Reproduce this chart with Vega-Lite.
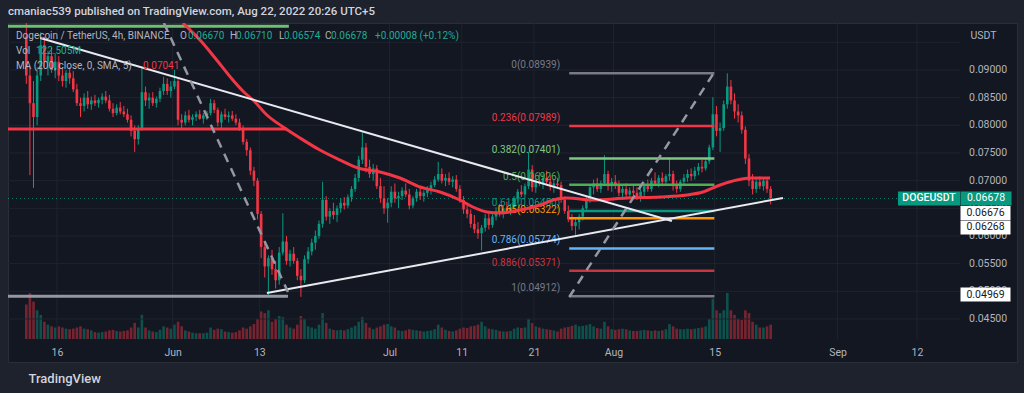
{
"$schema":"https://vega.github.io/schema/vega-lite/v6.json",
"width":1009,"height":339,
"autosize":{"type":"none"},
"padding":{"left":8,"top":23,"right":7,"bottom":31},
"background":"#1e222d",
"config":{"view":{"fill":"#131722","stroke":"#2a2e39","strokeWidth":1},"font":"Roboto","axis":{"labelOverlap":false,"labelBound":false}},
"title":{"text":"cmaniac539 published on TradingView.com, Aug 22, 2022 20:26 UTC+5","anchor":"start","frame":"group","orient":"top","offset":-1,"baseline":"middle","fontSize":11.5,"fontWeight":500,"color":"#d1d4dc","font":"Roboto"},
"datasets":{"candles":[
{"t":"2022-05-11T18:00Z","o":0.0960,"h":0.0985,"l":0.0875,"c":0.0890,"v":600},
{"t":"2022-05-12T06:00Z","o":0.0890,"h":0.0905,"l":0.0710,"c":0.0840,"v":800},
{"t":"2022-05-12T18:00Z","o":0.0840,"h":0.0880,"l":0.0687,"c":0.0815,"v":650},
{"t":"2022-05-13T06:00Z","o":0.0815,"h":0.0905,"l":0.0800,"c":0.0890,"v":500},
{"t":"2022-05-13T18:00Z","o":0.0890,"h":0.0968,"l":0.0880,"c":0.0945,"v":420},
{"t":"2022-05-14T06:00Z","o":0.0945,"h":0.0960,"l":0.0905,"c":0.0915,"v":300},
{"t":"2022-05-14T18:00Z","o":0.0915,"h":0.0935,"l":0.0890,"c":0.0925,"v":250},
{"t":"2022-05-15T06:00Z","o":0.0925,"h":0.0940,"l":0.0895,"c":0.0900,"v":220},
{"t":"2022-05-15T18:00Z","o":0.0900,"h":0.0930,"l":0.0885,"c":0.0915,"v":200},
{"t":"2022-05-16T06:00Z","o":0.0915,"h":0.0925,"l":0.0880,"c":0.0890,"v":220},
{"t":"2022-05-16T18:00Z","o":0.0890,"h":0.0905,"l":0.0870,"c":0.0880,"v":200},
{"t":"2022-05-17T06:00Z","o":0.0880,"h":0.0900,"l":0.0868,"c":0.0895,"v":180},
{"t":"2022-05-17T18:00Z","o":0.0895,"h":0.0905,"l":0.0875,"c":0.0885,"v":170},
{"t":"2022-05-18T06:00Z","o":0.0885,"h":0.0898,"l":0.0860,"c":0.0865,"v":180},
{"t":"2022-05-18T18:00Z","o":0.0865,"h":0.0875,"l":0.0835,"c":0.0840,"v":200},
{"t":"2022-05-19T06:00Z","o":0.0840,"h":0.0850,"l":0.0815,"c":0.0835,"v":220},
{"t":"2022-05-19T18:00Z","o":0.0835,"h":0.0858,"l":0.0825,"c":0.0850,"v":180},
{"t":"2022-05-20T06:00Z","o":0.0850,"h":0.0862,"l":0.0830,"c":0.0838,"v":170},
{"t":"2022-05-20T18:00Z","o":0.0838,"h":0.0852,"l":0.0828,"c":0.0845,"v":150},
{"t":"2022-05-21T06:00Z","o":0.0845,"h":0.0855,"l":0.0835,"c":0.0840,"v":120},
{"t":"2022-05-21T18:00Z","o":0.0840,"h":0.0850,"l":0.0832,"c":0.0846,"v":110},
{"t":"2022-05-22T06:00Z","o":0.0846,"h":0.0858,"l":0.0838,"c":0.0852,"v":120},
{"t":"2022-05-22T18:00Z","o":0.0852,"h":0.0862,"l":0.0840,"c":0.0845,"v":130},
{"t":"2022-05-23T06:00Z","o":0.0845,"h":0.0855,"l":0.0825,"c":0.0830,"v":150},
{"t":"2022-05-23T18:00Z","o":0.0830,"h":0.0840,"l":0.0815,"c":0.0822,"v":160},
{"t":"2022-05-24T06:00Z","o":0.0822,"h":0.0838,"l":0.0818,"c":0.0832,"v":140},
{"t":"2022-05-24T18:00Z","o":0.0832,"h":0.0842,"l":0.0820,"c":0.0825,"v":130},
{"t":"2022-05-25T06:00Z","o":0.0825,"h":0.0835,"l":0.0815,"c":0.0820,"v":140},
{"t":"2022-05-25T18:00Z","o":0.0820,"h":0.0830,"l":0.0805,"c":0.0810,"v":150},
{"t":"2022-05-26T06:00Z","o":0.0810,"h":0.0818,"l":0.0780,"c":0.0790,"v":200},
{"t":"2022-05-26T18:00Z","o":0.0790,"h":0.0800,"l":0.0752,"c":0.0775,"v":280},
{"t":"2022-05-27T06:00Z","o":0.0775,"h":0.0800,"l":0.0765,"c":0.0795,"v":200},
{"t":"2022-05-27T18:00Z","o":0.0795,"h":0.0905,"l":0.0790,"c":0.0860,"v":420},
{"t":"2022-05-28T06:00Z","o":0.0860,"h":0.0870,"l":0.0835,"c":0.0845,"v":200},
{"t":"2022-05-28T18:00Z","o":0.0845,"h":0.0858,"l":0.0830,"c":0.0850,"v":150},
{"t":"2022-05-29T06:00Z","o":0.0850,"h":0.0860,"l":0.0835,"c":0.0840,"v":130},
{"t":"2022-05-29T18:00Z","o":0.0840,"h":0.0852,"l":0.0832,"c":0.0848,"v":120},
{"t":"2022-05-30T06:00Z","o":0.0848,"h":0.0868,"l":0.0842,"c":0.0862,"v":160},
{"t":"2022-05-30T18:00Z","o":0.0862,"h":0.0888,"l":0.0855,"c":0.0875,"v":220},
{"t":"2022-05-31T06:00Z","o":0.0875,"h":0.0885,"l":0.0855,"c":0.0862,"v":200},
{"t":"2022-05-31T18:00Z","o":0.0862,"h":0.0880,"l":0.0850,"c":0.0870,"v":180},
{"t":"2022-06-01T06:00Z","o":0.0870,"h":0.0900,"l":0.0865,"c":0.0880,"v":250},
{"t":"2022-06-01T18:00Z","o":0.0880,"h":0.0885,"l":0.0800,"c":0.0810,"v":300},
{"t":"2022-06-02T06:00Z","o":0.0810,"h":0.0820,"l":0.0792,"c":0.0805,"v":220},
{"t":"2022-06-02T18:00Z","o":0.0805,"h":0.0825,"l":0.0800,"c":0.0818,"v":150},
{"t":"2022-06-03T06:00Z","o":0.0818,"h":0.0828,"l":0.0805,"c":0.0810,"v":130},
{"t":"2022-06-03T18:00Z","o":0.0810,"h":0.0820,"l":0.0800,"c":0.0815,"v":110},
{"t":"2022-06-04T06:00Z","o":0.0815,"h":0.0825,"l":0.0808,"c":0.0820,"v":100},
{"t":"2022-06-04T18:00Z","o":0.0820,"h":0.0828,"l":0.0810,"c":0.0812,"v":100},
{"t":"2022-06-05T06:00Z","o":0.0812,"h":0.0822,"l":0.0803,"c":0.0818,"v":100},
{"t":"2022-06-05T18:00Z","o":0.0818,"h":0.0826,"l":0.0810,"c":0.0822,"v":110},
{"t":"2022-06-06T06:00Z","o":0.0822,"h":0.0848,"l":0.0818,"c":0.0840,"v":200},
{"t":"2022-06-06T18:00Z","o":0.0840,"h":0.0846,"l":0.0822,"c":0.0828,"v":160},
{"t":"2022-06-07T06:00Z","o":0.0828,"h":0.0832,"l":0.0798,"c":0.0805,"v":180},
{"t":"2022-06-07T18:00Z","o":0.0805,"h":0.0825,"l":0.0795,"c":0.0820,"v":170},
{"t":"2022-06-08T06:00Z","o":0.0820,"h":0.0830,"l":0.0810,"c":0.0815,"v":130},
{"t":"2022-06-08T18:00Z","o":0.0815,"h":0.0825,"l":0.0805,"c":0.0818,"v":120},
{"t":"2022-06-09T06:00Z","o":0.0818,"h":0.0826,"l":0.0808,"c":0.0812,"v":110},
{"t":"2022-06-09T18:00Z","o":0.0812,"h":0.0820,"l":0.0800,"c":0.0805,"v":120},
{"t":"2022-06-10T06:00Z","o":0.0805,"h":0.0812,"l":0.0790,"c":0.0795,"v":150},
{"t":"2022-06-10T18:00Z","o":0.0795,"h":0.0800,"l":0.0765,"c":0.0770,"v":200},
{"t":"2022-06-11T06:00Z","o":0.0770,"h":0.0775,"l":0.0745,"c":0.0755,"v":180},
{"t":"2022-06-11T18:00Z","o":0.0755,"h":0.0760,"l":0.0710,"c":0.0718,"v":220},
{"t":"2022-06-12T06:00Z","o":0.0718,"h":0.0725,"l":0.0690,"c":0.0700,"v":260},
{"t":"2022-06-12T18:00Z","o":0.0700,"h":0.0705,"l":0.0630,"c":0.0640,"v":350},
{"t":"2022-06-13T06:00Z","o":0.0640,"h":0.0645,"l":0.0560,"c":0.0580,"v":480},
{"t":"2022-06-13T18:00Z","o":0.0580,"h":0.0590,"l":0.0525,"c":0.0545,"v":450},
{"t":"2022-06-14T06:00Z","o":0.0545,"h":0.0565,"l":0.0493,"c":0.0560,"v":500},
{"t":"2022-06-14T18:00Z","o":0.0560,"h":0.0575,"l":0.0530,"c":0.0540,"v":300},
{"t":"2022-06-15T06:00Z","o":0.0540,"h":0.0555,"l":0.0505,"c":0.0520,"v":350},
{"t":"2022-06-15T18:00Z","o":0.0520,"h":0.0580,"l":0.0512,"c":0.0570,"v":400},
{"t":"2022-06-16T06:00Z","o":0.0570,"h":0.0641,"l":0.0565,"c":0.0590,"v":380},
{"t":"2022-06-16T18:00Z","o":0.0590,"h":0.0600,"l":0.0548,"c":0.0555,"v":250},
{"t":"2022-06-17T06:00Z","o":0.0555,"h":0.0575,"l":0.0545,"c":0.0568,"v":200},
{"t":"2022-06-17T18:00Z","o":0.0568,"h":0.0580,"l":0.0550,"c":0.0555,"v":180},
{"t":"2022-06-18T06:00Z","o":0.0555,"h":0.0560,"l":0.0520,"c":0.0528,"v":250},
{"t":"2022-06-18T18:00Z","o":0.0528,"h":0.0540,"l":0.0490,"c":0.0520,"v":400},
{"t":"2022-06-19T06:00Z","o":0.0520,"h":0.0565,"l":0.0515,"c":0.0558,"v":350},
{"t":"2022-06-19T18:00Z","o":0.0558,"h":0.0580,"l":0.0550,"c":0.0572,"v":220},
{"t":"2022-06-20T06:00Z","o":0.0572,"h":0.0595,"l":0.0565,"c":0.0588,"v":200},
{"t":"2022-06-20T18:00Z","o":0.0588,"h":0.0610,"l":0.0575,"c":0.0600,"v":180},
{"t":"2022-06-21T06:00Z","o":0.0600,"h":0.0628,"l":0.0595,"c":0.0622,"v":250},
{"t":"2022-06-21T18:00Z","o":0.0622,"h":0.0698,"l":0.0615,"c":0.0665,"v":450},
{"t":"2022-06-22T06:00Z","o":0.0665,"h":0.0672,"l":0.0628,"c":0.0635,"v":280},
{"t":"2022-06-22T18:00Z","o":0.0635,"h":0.0650,"l":0.0622,"c":0.0645,"v":180},
{"t":"2022-06-23T06:00Z","o":0.0645,"h":0.0660,"l":0.0630,"c":0.0638,"v":160},
{"t":"2022-06-23T18:00Z","o":0.0638,"h":0.0655,"l":0.0625,"c":0.0650,"v":150},
{"t":"2022-06-24T06:00Z","o":0.0650,"h":0.0668,"l":0.0642,"c":0.0660,"v":160},
{"t":"2022-06-24T18:00Z","o":0.0660,"h":0.0670,"l":0.0648,"c":0.0655,"v":150},
{"t":"2022-06-25T06:00Z","o":0.0655,"h":0.0675,"l":0.0650,"c":0.0670,"v":170},
{"t":"2022-06-25T18:00Z","o":0.0670,"h":0.0690,"l":0.0662,"c":0.0685,"v":200},
{"t":"2022-06-26T06:00Z","o":0.0685,"h":0.0712,"l":0.0680,"c":0.0705,"v":230},
{"t":"2022-06-26T18:00Z","o":0.0705,"h":0.0745,"l":0.0698,"c":0.0738,"v":300},
{"t":"2022-06-27T06:00Z","o":0.0738,"h":0.0787,"l":0.0730,"c":0.0760,"v":380},
{"t":"2022-06-27T18:00Z","o":0.0760,"h":0.0768,"l":0.0715,"c":0.0725,"v":280},
{"t":"2022-06-28T06:00Z","o":0.0725,"h":0.0738,"l":0.0705,"c":0.0712,"v":200},
{"t":"2022-06-28T18:00Z","o":0.0712,"h":0.0730,"l":0.0700,"c":0.0722,"v":170},
{"t":"2022-06-29T06:00Z","o":0.0722,"h":0.0728,"l":0.0685,"c":0.0690,"v":200},
{"t":"2022-06-29T18:00Z","o":0.0690,"h":0.0705,"l":0.0660,"c":0.0668,"v":220},
{"t":"2022-06-30T06:00Z","o":0.0668,"h":0.0690,"l":0.0640,"c":0.0650,"v":250},
{"t":"2022-06-30T18:00Z","o":0.0650,"h":0.0668,"l":0.0624,"c":0.0660,"v":260},
{"t":"2022-07-01T06:00Z","o":0.0660,"h":0.0690,"l":0.0652,"c":0.0680,"v":220},
{"t":"2022-07-01T18:00Z","o":0.0680,"h":0.0695,"l":0.0660,"c":0.0668,"v":200},
{"t":"2022-07-02T06:00Z","o":0.0668,"h":0.0680,"l":0.0650,"c":0.0672,"v":150},
{"t":"2022-07-02T18:00Z","o":0.0672,"h":0.0688,"l":0.0665,"c":0.0682,"v":140},
{"t":"2022-07-03T06:00Z","o":0.0682,"h":0.0695,"l":0.0670,"c":0.0675,"v":150},
{"t":"2022-07-03T18:00Z","o":0.0675,"h":0.0685,"l":0.0648,"c":0.0655,"v":170},
{"t":"2022-07-04T06:00Z","o":0.0655,"h":0.0672,"l":0.0650,"c":0.0668,"v":160},
{"t":"2022-07-04T18:00Z","o":0.0668,"h":0.0685,"l":0.0662,"c":0.0680,"v":150},
{"t":"2022-07-05T06:00Z","o":0.0680,"h":0.0688,"l":0.0665,"c":0.0672,"v":140},
{"t":"2022-07-05T18:00Z","o":0.0672,"h":0.0682,"l":0.0662,"c":0.0678,"v":130},
{"t":"2022-07-06T06:00Z","o":0.0678,"h":0.0690,"l":0.0670,"c":0.0685,"v":140},
{"t":"2022-07-06T18:00Z","o":0.0685,"h":0.0698,"l":0.0675,"c":0.0692,"v":150},
{"t":"2022-07-07T06:00Z","o":0.0692,"h":0.0708,"l":0.0688,"c":0.0702,"v":170},
{"t":"2022-07-07T18:00Z","o":0.0702,"h":0.0734,"l":0.0698,"c":0.0712,"v":250},
{"t":"2022-07-08T06:00Z","o":0.0712,"h":0.0722,"l":0.0695,"c":0.0700,"v":200},
{"t":"2022-07-08T18:00Z","o":0.0700,"h":0.0712,"l":0.0690,"c":0.0705,"v":160},
{"t":"2022-07-09T06:00Z","o":0.0705,"h":0.0715,"l":0.0692,"c":0.0698,"v":140},
{"t":"2022-07-09T18:00Z","o":0.0698,"h":0.0708,"l":0.0688,"c":0.0702,"v":130},
{"t":"2022-07-10T06:00Z","o":0.0702,"h":0.0710,"l":0.0680,"c":0.0685,"v":150},
{"t":"2022-07-10T18:00Z","o":0.0685,"h":0.0692,"l":0.0660,"c":0.0665,"v":180},
{"t":"2022-07-11T06:00Z","o":0.0665,"h":0.0672,"l":0.0640,"c":0.0648,"v":200},
{"t":"2022-07-11T18:00Z","o":0.0648,"h":0.0660,"l":0.0632,"c":0.0640,"v":190},
{"t":"2022-07-12T06:00Z","o":0.0640,"h":0.0648,"l":0.0615,"c":0.0622,"v":220},
{"t":"2022-07-12T18:00Z","o":0.0622,"h":0.0638,"l":0.0605,"c":0.0612,"v":230},
{"t":"2022-07-13T06:00Z","o":0.0612,"h":0.0625,"l":0.0595,"c":0.0605,"v":250},
{"t":"2022-07-13T18:00Z","o":0.0605,"h":0.0620,"l":0.0574,"c":0.0615,"v":300},
{"t":"2022-07-14T06:00Z","o":0.0615,"h":0.0640,"l":0.0608,"c":0.0632,"v":220},
{"t":"2022-07-14T18:00Z","o":0.0632,"h":0.0645,"l":0.0612,"c":0.0620,"v":180},
{"t":"2022-07-15T06:00Z","o":0.0620,"h":0.0640,"l":0.0615,"c":0.0635,"v":170},
{"t":"2022-07-15T18:00Z","o":0.0635,"h":0.0652,"l":0.0628,"c":0.0645,"v":160},
{"t":"2022-07-16T06:00Z","o":0.0645,"h":0.0658,"l":0.0635,"c":0.0640,"v":140},
{"t":"2022-07-16T18:00Z","o":0.0640,"h":0.0655,"l":0.0632,"c":0.0650,"v":130},
{"t":"2022-07-17T06:00Z","o":0.0650,"h":0.0662,"l":0.0640,"c":0.0645,"v":130},
{"t":"2022-07-17T18:00Z","o":0.0645,"h":0.0658,"l":0.0638,"c":0.0652,"v":140},
{"t":"2022-07-18T06:00Z","o":0.0652,"h":0.0672,"l":0.0648,"c":0.0668,"v":180},
{"t":"2022-07-18T18:00Z","o":0.0668,"h":0.0685,"l":0.0660,"c":0.0680,"v":200},
{"t":"2022-07-19T06:00Z","o":0.0680,"h":0.0692,"l":0.0670,"c":0.0675,"v":190},
{"t":"2022-07-19T18:00Z","o":0.0675,"h":0.0695,"l":0.0668,"c":0.0690,"v":200},
{"t":"2022-07-20T06:00Z","o":0.0690,"h":0.0752,"l":0.0685,"c":0.0720,"v":350},
{"t":"2022-07-20T18:00Z","o":0.0720,"h":0.0728,"l":0.0680,"c":0.0688,"v":280},
{"t":"2022-07-21T06:00Z","o":0.0688,"h":0.0705,"l":0.0678,"c":0.0700,"v":220},
{"t":"2022-07-21T18:00Z","o":0.0700,"h":0.0715,"l":0.0690,"c":0.0695,"v":200},
{"t":"2022-07-22T06:00Z","o":0.0695,"h":0.0712,"l":0.0685,"c":0.0705,"v":180},
{"t":"2022-07-22T18:00Z","o":0.0705,"h":0.0718,"l":0.0692,"c":0.0698,"v":170},
{"t":"2022-07-23T06:00Z","o":0.0698,"h":0.0710,"l":0.0682,"c":0.0690,"v":160},
{"t":"2022-07-23T18:00Z","o":0.0690,"h":0.0702,"l":0.0678,"c":0.0695,"v":150},
{"t":"2022-07-24T06:00Z","o":0.0695,"h":0.0705,"l":0.0688,"c":0.0692,"v":130},
{"t":"2022-07-24T18:00Z","o":0.0692,"h":0.0698,"l":0.0660,"c":0.0665,"v":180},
{"t":"2022-07-25T06:00Z","o":0.0665,"h":0.0672,"l":0.0640,"c":0.0645,"v":200},
{"t":"2022-07-25T18:00Z","o":0.0645,"h":0.0655,"l":0.0625,"c":0.0630,"v":210},
{"t":"2022-07-26T06:00Z","o":0.0630,"h":0.0640,"l":0.0610,"c":0.0618,"v":230},
{"t":"2022-07-26T18:00Z","o":0.0618,"h":0.0632,"l":0.0602,"c":0.0625,"v":250},
{"t":"2022-07-27T06:00Z","o":0.0625,"h":0.0640,"l":0.0612,"c":0.0635,"v":220},
{"t":"2022-07-27T18:00Z","o":0.0635,"h":0.0655,"l":0.0628,"c":0.0650,"v":230},
{"t":"2022-07-28T06:00Z","o":0.0650,"h":0.0672,"l":0.0645,"c":0.0665,"v":240},
{"t":"2022-07-28T18:00Z","o":0.0665,"h":0.0692,"l":0.0660,"c":0.0688,"v":260},
{"t":"2022-07-29T06:00Z","o":0.0688,"h":0.0702,"l":0.0675,"c":0.0695,"v":220},
{"t":"2022-07-29T18:00Z","o":0.0695,"h":0.0705,"l":0.0680,"c":0.0685,"v":190},
{"t":"2022-07-30T06:00Z","o":0.0685,"h":0.0700,"l":0.0678,"c":0.0695,"v":180},
{"t":"2022-07-30T18:00Z","o":0.0695,"h":0.0746,"l":0.0690,"c":0.0712,"v":300},
{"t":"2022-07-31T06:00Z","o":0.0712,"h":0.0718,"l":0.0682,"c":0.0690,"v":220},
{"t":"2022-07-31T18:00Z","o":0.0690,"h":0.0705,"l":0.0680,"c":0.0698,"v":170},
{"t":"2022-08-01T06:00Z","o":0.0698,"h":0.0710,"l":0.0685,"c":0.0692,"v":160},
{"t":"2022-08-01T18:00Z","o":0.0692,"h":0.0700,"l":0.0672,"c":0.0678,"v":170},
{"t":"2022-08-02T06:00Z","o":0.0678,"h":0.0690,"l":0.0665,"c":0.0685,"v":180},
{"t":"2022-08-02T18:00Z","o":0.0685,"h":0.0695,"l":0.0670,"c":0.0675,"v":170},
{"t":"2022-08-03T06:00Z","o":0.0675,"h":0.0688,"l":0.0668,"c":0.0682,"v":150},
{"t":"2022-08-03T18:00Z","o":0.0682,"h":0.0692,"l":0.0672,"c":0.0678,"v":140},
{"t":"2022-08-04T06:00Z","o":0.0678,"h":0.0688,"l":0.0665,"c":0.0670,"v":140},
{"t":"2022-08-04T18:00Z","o":0.0670,"h":0.0685,"l":0.0662,"c":0.0680,"v":150},
{"t":"2022-08-05T06:00Z","o":0.0680,"h":0.0695,"l":0.0672,"c":0.0690,"v":160},
{"t":"2022-08-05T18:00Z","o":0.0690,"h":0.0702,"l":0.0680,"c":0.0685,"v":150},
{"t":"2022-08-06T06:00Z","o":0.0685,"h":0.0705,"l":0.0680,"c":0.0700,"v":140},
{"t":"2022-08-06T18:00Z","o":0.0700,"h":0.0715,"l":0.0690,"c":0.0695,"v":150},
{"t":"2022-08-07T06:00Z","o":0.0695,"h":0.0710,"l":0.0688,"c":0.0705,"v":140},
{"t":"2022-08-07T18:00Z","o":0.0705,"h":0.0715,"l":0.0690,"c":0.0698,"v":150},
{"t":"2022-08-08T06:00Z","o":0.0698,"h":0.0712,"l":0.0690,"c":0.0708,"v":170},
{"t":"2022-08-08T18:00Z","o":0.0708,"h":0.0741,"l":0.0700,"c":0.0712,"v":260},
{"t":"2022-08-09T06:00Z","o":0.0712,"h":0.0718,"l":0.0682,"c":0.0690,"v":220},
{"t":"2022-08-09T18:00Z","o":0.0690,"h":0.0700,"l":0.0678,"c":0.0685,"v":180},
{"t":"2022-08-10T06:00Z","o":0.0685,"h":0.0702,"l":0.0680,"c":0.0698,"v":170},
{"t":"2022-08-10T18:00Z","o":0.0698,"h":0.0712,"l":0.0690,"c":0.0705,"v":170},
{"t":"2022-08-11T06:00Z","o":0.0705,"h":0.0720,"l":0.0698,"c":0.0712,"v":180},
{"t":"2022-08-11T18:00Z","o":0.0712,"h":0.0722,"l":0.0700,"c":0.0708,"v":170},
{"t":"2022-08-12T06:00Z","o":0.0708,"h":0.0725,"l":0.0702,"c":0.0718,"v":180},
{"t":"2022-08-12T18:00Z","o":0.0718,"h":0.0732,"l":0.0710,"c":0.0725,"v":190},
{"t":"2022-08-13T06:00Z","o":0.0725,"h":0.0738,"l":0.0715,"c":0.0722,"v":200},
{"t":"2022-08-13T18:00Z","o":0.0722,"h":0.0740,"l":0.0718,"c":0.0735,"v":220},
{"t":"2022-08-14T06:00Z","o":0.0735,"h":0.0765,"l":0.0730,"c":0.0760,"v":350},
{"t":"2022-08-14T18:00Z","o":0.0760,"h":0.0851,"l":0.0755,"c":0.0820,"v":700},
{"t":"2022-08-15T06:00Z","o":0.0820,"h":0.0835,"l":0.0780,"c":0.0790,"v":500},
{"t":"2022-08-15T18:00Z","o":0.0790,"h":0.0805,"l":0.0752,"c":0.0795,"v":450},
{"t":"2022-08-16T06:00Z","o":0.0795,"h":0.0845,"l":0.0790,"c":0.0838,"v":500},
{"t":"2022-08-16T18:00Z","o":0.0838,"h":0.0894,"l":0.0830,"c":0.0870,"v":800},
{"t":"2022-08-17T06:00Z","o":0.0870,"h":0.0882,"l":0.0838,"c":0.0845,"v":500},
{"t":"2022-08-17T18:00Z","o":0.0845,"h":0.0858,"l":0.0812,"c":0.0825,"v":420},
{"t":"2022-08-18T06:00Z","o":0.0825,"h":0.0838,"l":0.0805,"c":0.0818,"v":350},
{"t":"2022-08-18T18:00Z","o":0.0818,"h":0.0825,"l":0.0785,"c":0.0792,"v":330},
{"t":"2022-08-19T06:00Z","o":0.0792,"h":0.0798,"l":0.0730,"c":0.0740,"v":500},
{"t":"2022-08-19T18:00Z","o":0.0740,"h":0.0748,"l":0.0690,"c":0.0700,"v":450},
{"t":"2022-08-20T06:00Z","o":0.0700,"h":0.0712,"l":0.0675,"c":0.0685,"v":300},
{"t":"2022-08-20T18:00Z","o":0.0685,"h":0.0705,"l":0.0678,"c":0.0698,"v":250},
{"t":"2022-08-21T06:00Z","o":0.0698,"h":0.0708,"l":0.0685,"c":0.0690,"v":200},
{"t":"2022-08-21T18:00Z","o":0.0690,"h":0.0705,"l":0.0682,"c":0.0700,"v":200},
{"t":"2022-08-22T06:00Z","o":0.0700,"h":0.0705,"l":0.0678,"c":0.0685,"v":220},
{"t":"2022-08-22T18:00Z","o":0.0685,"h":0.0690,"l":0.0657,"c":0.06678,"v":250}
],
"ticks":[{"p":0.045},{"p":0.05},{"p":0.055},{"p":0.06},{"p":0.065},{"p":0.07},{"p":0.075},{"p":0.08},{"p":0.085},{"p":0.09}]},
"resolve":{"scale":{"y":"independent"}},
"layer":[
{"data":{"name":"candles"},
 "mark":{"type":"rule","strokeWidth":2.6,"opacity":0.45},
 "encoding":{
  "x":{"field":"t","type":"temporal","scale":{"type":"utc","domain":[{"year":2022,"month":5,"date":9,"hours":5,"minutes":17,"utc":true},{"year":2022,"month":9,"date":25,"hours":20,"minutes":2,"utc":true}]},
   "axis":{"title":"TradingView","values":[{"year":2022,"month":5,"date":16,"utc":true},{"year":2022,"month":6,"date":1,"utc":true},{"year":2022,"month":6,"date":13,"utc":true},{"year":2022,"month":7,"date":1,"utc":true},{"year":2022,"month":7,"date":11,"utc":true},{"year":2022,"month":7,"date":21,"utc":true},{"year":2022,"month":8,"date":1,"utc":true},{"year":2022,"month":8,"date":15,"utc":true},{"year":2022,"month":9,"date":1,"utc":true},{"year":2022,"month":9,"date":12,"utc":true}],
   "labelExpr":"utcdate(datum.value) == 1 ? utcFormat(datum.value, '%b') : utcFormat(datum.value, '%d')",
   "labelColor":"#b2b5be","labelFontSize":10.5,"labelFont":"Roboto","labelPadding":13,"labelBaseline":"middle","labelFlush":false,"labelOverlap":false,
   "ticks":false,"domain":false,"grid":false,"offset":-23,
   "titleX":20,"titleY":39,"titleAlign":"left","titleBaseline":"middle","titleFontSize":13,"titleFontWeight":500,"titleColor":"#d1d4dc","titleFont":"Roboto"}},
  "y":{"field":"v","type":"quantitative","scale":{"domain":[-400,5496],"nice":false,"zero":false},"axis":null},
  "y2":{"datum":0},
  "color":{"condition":{"test":"datum.c >= datum.o","value":"#089981"},"value":"#f23645"}
 }},
{"resolve":{"scale":{"color":"independent"}},
 "layer":[
  {"data":{"values":[{"p":0.045},{"p":0.05},{"p":0.055},{"p":0.06},{"p":0.065},{"p":0.07},{"p":0.075},{"p":0.08},{"p":0.085},{"p":0.09},{"p":0.095}]},
   "mark":{"type":"rule","color":"#1f2330","strokeWidth":1},
   "encoding":{
    "x":{"datum":{"year":2022,"month":5,"date":9,"hours":5,"minutes":17,"utc":true},"type":"temporal"},
    "x2":{"datum":{"year":2022,"month":9,"date":17,"hours":22,"minutes":45,"utc":true}},
    "y":{"field":"p","type":"quantitative","scale":{"domain":[0.037226,0.098494],"nice":false,"zero":false},
     "axis":{"title":"USDT","orient":"right","offset":-57,"labels":false,"ticks":false,"domain":false,"grid":false,
      "titleAngle":0,"titleX":10,"titleY":12,"titleAlign":"left","titleBaseline":"middle","titleColor":"#b2b5be","titleFontSize":10.5,"titleFontWeight":"normal","titleFont":"Roboto"}}}},
  {"data":{"values":[{"t":"2022-05-16T00:00Z"},{"t":"2022-06-01T00:00Z"},{"t":"2022-06-13T00:00Z"},{"t":"2022-07-01T00:00Z"},{"t":"2022-07-11T00:00Z"},{"t":"2022-07-21T00:00Z"},{"t":"2022-08-01T00:00Z"},{"t":"2022-08-15T00:00Z"},{"t":"2022-09-01T00:00Z"},{"t":"2022-09-12T00:00Z"}]},
   "mark":{"type":"rule","color":"#1f2330","strokeWidth":1},
   "encoding":{"x":{"field":"t","type":"temporal"},"y":{"datum":0.041383,"type":"quantitative"},"y2":{"datum":0.098494}}},
  {"data":{"name":"ticks"},
   "mark":{"type":"text","align":"left","baseline":"middle","dx":9,"fontSize":10.5,"font":"Roboto","color":"#b2b5be"},
   "encoding":{"x":{"datum":{"year":2022,"month":9,"date":17,"hours":22,"minutes":45,"utc":true},"type":"temporal"},"y":{"field":"p","type":"quantitative"},"text":{"field":"p","type":"quantitative","format":".5f"}}},
  {"data":{"values":[{"p":0.06678}]},
   "mark":{"type":"rule","color":"#089981","strokeDash":[1,3],"strokeWidth":1,"opacity":0.8},
   "encoding":{"x":{"datum":{"year":2022,"month":5,"date":9,"hours":5,"minutes":17,"utc":true},"type":"temporal"},"x2":{"datum":{"year":2022,"month":9,"date":17,"hours":22,"minutes":45,"utc":true}},"y":{"field":"p","type":"quantitative"}}},
  {"data":{"name":"candles"},
   "mark":{"type":"rule","strokeWidth":1},
   "encoding":{"x":{"field":"t","type":"temporal"},"y":{"field":"l","type":"quantitative"},"y2":{"field":"h"},
    "color":{"condition":{"test":"datum.c >= datum.o","value":"#089981"},"value":"#f23645"}}},
  {"data":{"name":"candles"},
   "mark":{"type":"rule","strokeWidth":2.6},
   "encoding":{"x":{"field":"t","type":"temporal"},"y":{"field":"o","type":"quantitative"},"y2":{"field":"c"},
    "color":{"condition":{"test":"datum.c >= datum.o","value":"#089981"},"value":"#f23645"}}},
  {"data":{"values":[{"id":"support","from":"2022-05-09T05:17Z","to":"2022-06-16T23:00Z","p":0.04912},{"id":"resistance","from":"2022-05-09T05:17Z","to":"2022-06-16T20:00Z","p":0.07934},{"id":"top","from":"2022-05-09T05:17Z","to":"2022-06-17T02:00Z","p":0.0979}]},
   "mark":{"type":"rule","strokeWidth":3},
   "encoding":{"x":{"field":"from","type":"temporal"},"x2":{"field":"to"},"y":{"field":"p","type":"quantitative"},
    "color":{"field":"id","type":"nominal","scale":{"domain":["support","resistance","top"],"range":["#9598a1","#f23645","#6fbf73"]},"legend":null}}},
  {"data":{"values":[
    {"lvl":"0","price":0.08939,"label":"0(0.08939)","from":"2022-07-25T21:00Z","to":"2022-08-14T23:00Z"},
    {"lvl":"0.236","price":0.07989,"label":"0.236(0.07989)","from":"2022-07-25T21:00Z","to":"2022-08-14T23:00Z"},
    {"lvl":"0.382","price":0.07401,"label":"0.382(0.07401)","from":"2022-07-25T21:00Z","to":"2022-08-14T23:00Z"},
    {"lvl":"0.5","price":0.06926,"label":"0.5(0.06926)","from":"2022-07-25T21:00Z","to":"2022-08-14T23:00Z"},
    {"lvl":"0.618","price":0.0645,"label":"0.618(0.06450)","from":"2022-07-25T21:00Z","to":"2022-08-14T23:00Z"},
    {"lvl":"0.65","price":0.06322,"label":"0.65(0.06322)","from":"2022-07-25T21:00Z","to":"2022-08-14T23:00Z"},
    {"lvl":"0.786","price":0.05774,"label":"0.786(0.05774)","from":"2022-07-25T21:00Z","to":"2022-08-14T23:00Z"},
    {"lvl":"0.886","price":0.05371,"label":"0.886(0.05371)","from":"2022-07-25T21:00Z","to":"2022-08-14T23:00Z"},
    {"lvl":"1","price":0.04912,"label":"1(0.04912)","from":"2022-07-25T21:00Z","to":"2022-08-14T23:00Z"}]},
   "layer":[
    {"mark":{"type":"rule","strokeWidth":2.5},
     "encoding":{"x":{"field":"from","type":"temporal"},"x2":{"field":"to"},"y":{"field":"price","type":"quantitative"},
      "color":{"field":"lvl","type":"nominal","scale":{"domain":["0","0.236","0.382","0.5","0.618","0.65","0.786","0.886","1"],"range":["#787b86","#f23645","#81c784","#4caf50","#089981","#ff9800","#64b5f6","#c93441","#787b86"]},"legend":null}}},
    {"mark":{"type":"text","align":"right","baseline":"middle","dx":-9,"dy":-8,"fontSize":10,"font":"Roboto"},
     "encoding":{"x":{"field":"from","type":"temporal"},"y":{"field":"price","type":"quantitative"},"text":{"field":"label"},
      "color":{"field":"lvl","type":"nominal","scale":{"domain":["0","0.236","0.382","0.5","0.618","0.65","0.786","0.886","1"],"range":["#8a8d98","#f23645","#81c784","#4caf50","#089981","#ff9800","#64b5f6","#c93441","#8a8d98"]},"legend":null}}}]},
  {"data":{"values":[{"t":"2022-06-02T10:00Z","p":0.09849},{"t":"2022-06-03T10:00Z","p":0.09723},{"t":"2022-06-04T19:00Z","p":0.09542},{"t":"2022-06-06T21:00Z","p":0.09217},{"t":"2022-06-09T08:00Z","p":0.08819},{"t":"2022-06-11T00:00Z","p":0.08584},{"t":"2022-06-12T03:00Z","p":0.08458},{"t":"2022-06-14T01:00Z","p":0.08187},{"t":"2022-06-16T07:00Z","p":0.0797},{"t":"2022-06-18T15:00Z","p":0.07771},{"t":"2022-06-21T09:00Z","p":0.07554},{"t":"2022-06-24T04:00Z","p":0.07373},{"t":"2022-06-26T16:00Z","p":0.07229},{"t":"2022-06-29T17:00Z","p":0.07157},{"t":"2022-07-02T11:00Z","p":0.07048},{"t":"2022-07-05T06:00Z","p":0.06885},{"t":"2022-07-08T00:00Z","p":0.06795},{"t":"2022-07-10T18:00Z","p":0.0665},{"t":"2022-07-12T13:00Z","p":0.06524},{"t":"2022-07-14T12:00Z","p":0.06434},{"t":"2022-07-16T07:00Z","p":0.06415},{"t":"2022-07-19T02:00Z","p":0.0647},{"t":"2022-07-21T20:00Z","p":0.0656},{"t":"2022-07-23T15:00Z","p":0.0665},{"t":"2022-07-25T14:00Z","p":0.06687},{"t":"2022-07-29T04:00Z","p":0.0665},{"t":"2022-08-02T21:00Z","p":0.06687},{"t":"2022-08-07T11:00Z","p":0.06705},{"t":"2022-08-11T04:00Z","p":0.06741},{"t":"2022-08-13T09:00Z","p":0.06795},{"t":"2022-08-15T18:00Z","p":0.06922},{"t":"2022-08-18T02:00Z","p":0.07012},{"t":"2022-08-19T21:00Z","p":0.07048},{"t":"2022-08-22T16:00Z","p":0.07048}]},
   "mark":{"type":"line","color":"#f23645","strokeWidth":3,"clip":true,"interpolate":"monotone"},
   "encoding":{"x":{"field":"t","type":"temporal"},"y":{"field":"p","type":"quantitative"}}},
  {"data":{"values":[{"id":"down","t":"2022-05-13T16:00Z","p":0.09578},{"id":"down","t":"2022-08-09T02:00Z","p":0.06271},{"id":"up","t":"2022-06-14T01:00Z","p":0.0497},{"id":"up","t":"2022-08-24T11:00Z","p":0.06687}]},
   "mark":{"type":"line","color":"#e8eaf0","strokeWidth":2},
   "encoding":{"x":{"field":"t","type":"temporal"},"y":{"field":"p","type":"quantitative"},"detail":{"field":"id","type":"nominal"}}},
  {"data":{"values":[{"id":"a","t":"2022-05-30T19:00Z","p":0.09849},{"id":"a","t":"2022-06-16T23:00Z","p":0.04988},{"id":"b","t":"2022-07-25T21:00Z","p":0.04897},{"id":"b","t":"2022-08-14T19:00Z","p":0.08928}]},
   "mark":{"type":"line","color":"#9598a1","strokeWidth":2.5,"strokeDash":[9,7],"clip":true},
   "encoding":{"x":{"field":"t","type":"temporal"},"y":{"field":"p","type":"quantitative"},"detail":{"field":"id","type":"nominal"}}},
  {"data":{"values":[{"s":"Dogecoin / TetherUS, 4h, BINANCE"}]},"mark":{"type":"text","align":"left","baseline":"middle","dx":8,"fontSize":10,"color":"#b2b5be"},
   "encoding":{"x":{"datum":{"year":2022,"month":5,"date":9,"hours":5,"minutes":17,"utc":true},"type":"temporal"},"y":{"datum":0.096145,"type":"quantitative"},"text":{"field":"s"}}},
  {"data":{"values":[{"s":"O"}]},"mark":{"type":"text","align":"left","baseline":"middle","dx":172,"fontSize":10,"color":"#b2b5be"},
   "encoding":{"x":{"datum":{"year":2022,"month":5,"date":9,"hours":5,"minutes":17,"utc":true},"type":"temporal"},"y":{"datum":0.096145,"type":"quantitative"},"text":{"field":"s"}}},
  {"data":{"values":[{"s":"0.06670"}]},"mark":{"type":"text","align":"left","baseline":"middle","dx":180,"fontSize":10,"color":"#22ab94"},
   "encoding":{"x":{"datum":{"year":2022,"month":5,"date":9,"hours":5,"minutes":17,"utc":true},"type":"temporal"},"y":{"datum":0.096145,"type":"quantitative"},"text":{"field":"s"}}},
  {"data":{"values":[{"s":"H"}]},"mark":{"type":"text","align":"left","baseline":"middle","dx":222,"fontSize":10,"color":"#b2b5be"},
   "encoding":{"x":{"datum":{"year":2022,"month":5,"date":9,"hours":5,"minutes":17,"utc":true},"type":"temporal"},"y":{"datum":0.096145,"type":"quantitative"},"text":{"field":"s"}}},
  {"data":{"values":[{"s":"0.06710"}]},"mark":{"type":"text","align":"left","baseline":"middle","dx":228,"fontSize":10,"color":"#22ab94"},
   "encoding":{"x":{"datum":{"year":2022,"month":5,"date":9,"hours":5,"minutes":17,"utc":true},"type":"temporal"},"y":{"datum":0.096145,"type":"quantitative"},"text":{"field":"s"}}},
  {"data":{"values":[{"s":"L"}]},"mark":{"type":"text","align":"left","baseline":"middle","dx":271,"fontSize":10,"color":"#b2b5be"},
   "encoding":{"x":{"datum":{"year":2022,"month":5,"date":9,"hours":5,"minutes":17,"utc":true},"type":"temporal"},"y":{"datum":0.096145,"type":"quantitative"},"text":{"field":"s"}}},
  {"data":{"values":[{"s":"0.06574"}]},"mark":{"type":"text","align":"left","baseline":"middle","dx":276,"fontSize":10,"color":"#22ab94"},
   "encoding":{"x":{"datum":{"year":2022,"month":5,"date":9,"hours":5,"minutes":17,"utc":true},"type":"temporal"},"y":{"datum":0.096145,"type":"quantitative"},"text":{"field":"s"}}},
  {"data":{"values":[{"s":"C"}]},"mark":{"type":"text","align":"left","baseline":"middle","dx":317,"fontSize":10,"color":"#b2b5be"},
   "encoding":{"x":{"datum":{"year":2022,"month":5,"date":9,"hours":5,"minutes":17,"utc":true},"type":"temporal"},"y":{"datum":0.096145,"type":"quantitative"},"text":{"field":"s"}}},
  {"data":{"values":[{"s":"0.06678"}]},"mark":{"type":"text","align":"left","baseline":"middle","dx":323,"fontSize":10,"color":"#22ab94"},
   "encoding":{"x":{"datum":{"year":2022,"month":5,"date":9,"hours":5,"minutes":17,"utc":true},"type":"temporal"},"y":{"datum":0.096145,"type":"quantitative"},"text":{"field":"s"}}},
  {"data":{"values":[{"s":"+0.00008 (+0.12%)"}]},"mark":{"type":"text","align":"left","baseline":"middle","dx":367,"fontSize":10,"color":"#22ab94"},
   "encoding":{"x":{"datum":{"year":2022,"month":5,"date":9,"hours":5,"minutes":17,"utc":true},"type":"temporal"},"y":{"datum":0.096145,"type":"quantitative"},"text":{"field":"s"}}},
  {"data":{"values":[{"s":"Vol"}]},"mark":{"type":"text","align":"left","baseline":"middle","dx":8,"fontSize":10,"color":"#b2b5be"},
   "encoding":{"x":{"datum":{"year":2022,"month":5,"date":9,"hours":5,"minutes":17,"utc":true},"type":"temporal"},"y":{"datum":0.093434,"type":"quantitative"},"text":{"field":"s"}}},
  {"data":{"values":[{"s":"122.505M"}]},"mark":{"type":"text","align":"left","baseline":"middle","dx":28,"fontSize":10,"color":"#22ab94"},
   "encoding":{"x":{"datum":{"year":2022,"month":5,"date":9,"hours":5,"minutes":17,"utc":true},"type":"temporal"},"y":{"datum":0.093434,"type":"quantitative"},"text":{"field":"s"}}},
  {"data":{"values":[{"s":"MA (200, close, 0, SMA, 5)"}]},"mark":{"type":"text","align":"left","baseline":"middle","dx":8,"fontSize":10,"color":"#b2b5be"},
   "encoding":{"x":{"datum":{"year":2022,"month":5,"date":9,"hours":5,"minutes":17,"utc":true},"type":"temporal"},"y":{"datum":0.090723,"type":"quantitative"},"text":{"field":"s"}}},
  {"data":{"values":[{"s":"0.07041"}]},"mark":{"type":"text","align":"left","baseline":"middle","dx":135,"fontSize":10,"color":"#f23645"},
   "encoding":{"x":{"datum":{"year":2022,"month":5,"date":9,"hours":5,"minutes":17,"utc":true},"type":"temporal"},"y":{"datum":0.090723,"type":"quantitative"},"text":{"field":"s"}}},
  {"data":{"values":[{"p":0.06678,"label":"0.06678"}]},
   "encoding":{"x":{"datum":{"year":2022,"month":9,"date":17,"hours":22,"minutes":45,"utc":true},"type":"temporal"},"y":{"field":"p","type":"quantitative"}},
   "layer":[
    {"mark":{"type":"point","shape":"M-1,-0.275H1V0.275H-1Z","size":2601,"filled":true,"color":"#089981","opacity":1,"strokeWidth":0,"xOffset":26}},
    {"mark":{"type":"text","color":"#ffffff","fontSize":10.5,"dx":26,"align":"center","baseline":"middle"},"encoding":{"text":{"field":"label"}}}]},
  {"data":{"values":[{"p":0.06678,"label":"DOGEUSDT"}]},
   "encoding":{"x":{"datum":{"year":2022,"month":9,"date":17,"hours":22,"minutes":45,"utc":true},"type":"temporal"},"y":{"field":"p","type":"quantitative"}},
   "layer":[
    {"mark":{"type":"point","shape":"M-1,-0.226H1V0.226H-1Z","size":3844,"filled":true,"color":"#089981","opacity":1,"strokeWidth":0,"xOffset":-31}},
    {"mark":{"type":"text","color":"#ffffff","fontSize":10.5,"fontWeight":500,"dx":-31,"align":"center","baseline":"middle"},"encoding":{"text":{"field":"label"}}}]},
  {"data":{"values":[{"p":0.06676,"label":"0.06676"}]},
   "encoding":{"x":{"datum":{"year":2022,"month":9,"date":17,"hours":22,"minutes":45,"utc":true},"type":"temporal"},"y":{"field":"p","type":"quantitative"}},
   "layer":[
    {"mark":{"type":"point","shape":"M-1,-0.28H1V0.28H-1Z","size":2500,"filled":true,"color":"#ffffff","opacity":1,"strokeWidth":0,"xOffset":25.5,"yOffset":14.4}},
    {"mark":{"type":"text","color":"#131722","fontSize":10.5,"dx":25.5,"dy":14.4,"align":"center","baseline":"middle"},"encoding":{"text":{"field":"label"}}}]},
  {"data":{"values":[{"p":0.06268,"label":"0.06268"}]},
   "encoding":{"x":{"datum":{"year":2022,"month":9,"date":17,"hours":22,"minutes":45,"utc":true},"type":"temporal"},"y":{"field":"p","type":"quantitative"}},
   "layer":[
    {"mark":{"type":"point","shape":"M-1,-0.28H1V0.28H-1Z","size":2500,"filled":true,"color":"#ffffff","opacity":1,"strokeWidth":0,"xOffset":25.5,"yOffset":6.3}},
    {"mark":{"type":"text","color":"#131722","fontSize":10.5,"dx":25.5,"dy":6.3,"align":"center","baseline":"middle"},"encoding":{"text":{"field":"label"}}}]},
  {"data":{"values":[{"p":0.04969,"label":"0.04969"}]},
   "encoding":{"x":{"datum":{"year":2022,"month":9,"date":17,"hours":22,"minutes":45,"utc":true},"type":"temporal"},"y":{"field":"p","type":"quantitative"}},
   "layer":[
    {"mark":{"type":"point","shape":"M-1,-0.28H1V0.28H-1Z","size":2500,"filled":true,"color":"#ffffff","opacity":1,"strokeWidth":0,"xOffset":25.5,"yOffset":1.5}},
    {"mark":{"type":"text","color":"#131722","fontSize":10.5,"dx":25.5,"dy":1.5,"align":"center","baseline":"middle"},"encoding":{"text":{"field":"label"}}}]}
 ]}
]
}
